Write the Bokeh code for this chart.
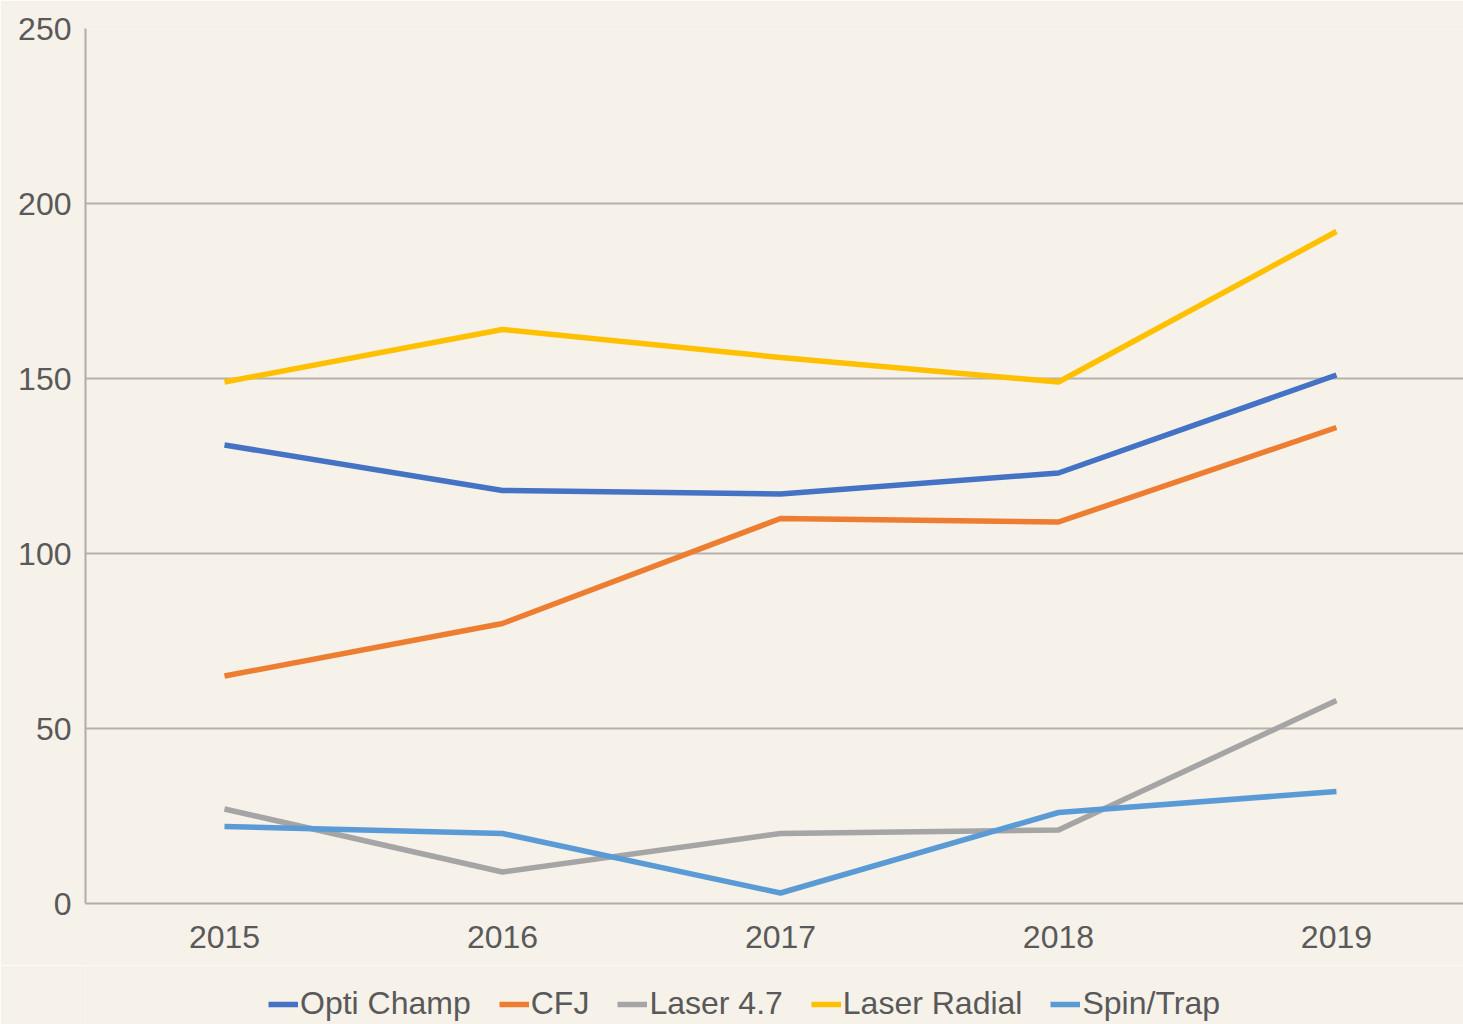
from bokeh.plotting import figure
from bokeh.layouts import column
from bokeh.models import Legend, LegendItem, FixedTicker, Range1d, ColumnDataSource
from bokeh.embed import file_html
from bokeh.resources import INLINE

years = [2015, 2016, 2017, 2018, 2019]
opti_champ = [131, 118, 117, 123, 151]
cfj = [65, 80, 110, 109, 136]
laser_47 = [27, 9, 20, 21, 58]
laser_radial = [149, 164, 156, 149, 192]
spin_trap = [22, 20, 3, 26, 32]

series = [
    ("Opti Champ", opti_champ, "#4472C4"),
    ("CFJ", cfj, "#ED7D31"),
    ("Laser 4.7", laser_47, "#A5A5A5"),
    ("Laser Radial", laser_radial, "#FFC000"),
    ("Spin/Trap", spin_trap, "#5B9BD5"),
]

bg = "#f6f1e9"
LW = 5.5

# main chart
p = figure(width=1463, height=965, output_backend="svg", toolbar_location=None,
           x_range=Range1d(2014.5, 2019.457), y_range=Range1d(0, 250),
           min_border_left=85, min_border_right=0, min_border_top=28, min_border_bottom=62)
p.background_fill_color = bg
p.border_fill_color = bg
p.outline_line_color = None

for name, vals, col in series:
    src = ColumnDataSource(dict(x=years, y=vals))
    p.line("x", "y", source=src, line_color=col, line_width=LW, line_join="round")

p.xaxis.ticker = FixedTicker(ticks=years)
p.yaxis.ticker = FixedTicker(ticks=[0, 50, 100, 150, 200, 250])
for ax in (p.xaxis[0], p.yaxis[0]):
    ax.major_tick_out = 0
    ax.major_tick_in = 0
    ax.minor_tick_out = 0
    ax.minor_tick_in = 0
    ax.axis_line_color = "#b3aca4"
    ax.axis_line_width = 2
    ax.major_label_text_font = "Liberation Sans"
    ax.major_label_text_font_size = "32px"
    ax.major_label_text_color = "#595959"
p.yaxis.major_label_standoff = 14
p.xaxis.major_label_standoff = 22

p.xgrid.grid_line_color = None
p.ygrid.grid_line_color = "#b5b1ac"
p.ygrid.grid_line_width = 2

# legend strip (series drawn out of view; only the legend shows)
lg = figure(width=1463, height=59, output_backend="svg", toolbar_location=None,
            x_range=Range1d(0, 1), y_range=Range1d(0, 1),
            min_border_left=85, min_border_right=0, min_border_top=0, min_border_bottom=0)
lg.background_fill_color = bg
lg.border_fill_color = bg
lg.outline_line_color = None
lg.xaxis.visible = False
lg.yaxis.visible = False
lg.xgrid.visible = False
lg.ygrid.visible = False

items = []
for name, vals, col in series:
    r = lg.line(x=years, y=vals, line_color=col, line_width=LW)
    items.append(LegendItem(label=name, renderers=[r]))

legend = Legend(items=items, orientation="horizontal", location=(183, 2),
                label_text_font="Liberation Sans", label_text_font_size="32px",
                label_text_color="#595959", glyph_width=30, glyph_height=34,
                label_standoff=2, spacing=28, padding=0, margin=0,
                background_fill_alpha=0, border_line_color=None)
lg.add_layout(legend, "center")

layout = column(p, lg, spacing=0)
open("out.html", "w").write(file_html(layout, INLINE))
